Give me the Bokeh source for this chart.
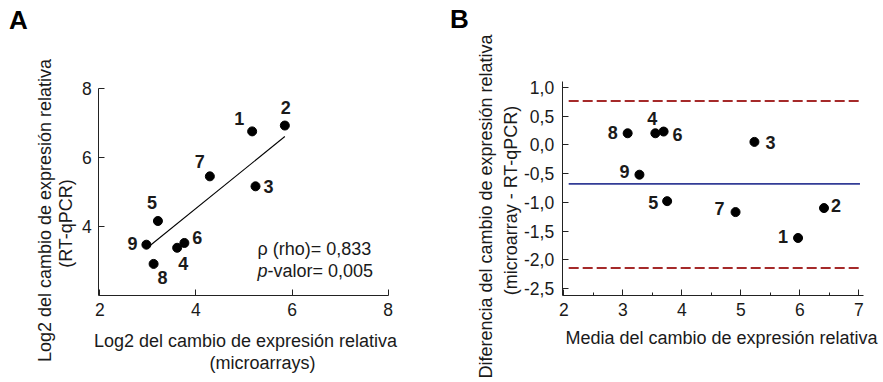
import math
from bokeh.plotting import figure
from bokeh.models import Range1d, FixedTicker, Label, ColumnDataSource, LinearAxis
from bokeh.embed import file_html
from bokeh.resources import INLINE
from bokeh.core.properties import value

# ---------------- data ----------------
ids = ["1", "2", "3", "4", "5", "6", "7", "8", "9"]
# Panel A: log2 fold change, microarrays vs RT-qPCR
micro_a = [5.17, 5.85, 5.24, 3.61, 3.21, 3.76, 4.29, 3.12, 2.97]
qpcr_a = [6.76, 6.93, 5.16, 3.37, 4.15, 3.51, 5.45, 2.90, 3.46]
fit_x = [2.97, 5.85]
fit_y = [3.35, 6.61]
rho_text = "ρ (rho)= 0,833"
pval_text = "-valor= 0,005"
x_ticks_a = [2, 4, 6, 8]
y_ticks_a = [4, 6, 8]
x_bounds_a = (1.98, 8.0)
y_bounds_a = (1.98, 8.0)

# Panel B: Bland-Altman
mean_b = [5.97, 6.41, 5.23, 3.55, 3.75, 3.69, 4.91, 3.08, 3.28]
diff_b = [-1.62, -1.10, 0.05, 0.20, -0.98, 0.23, -1.17, 0.20, -0.52]
bias = -0.68
loa_upper = 0.76
loa_lower = -2.14
limit_x = [2.08, 7.02]
x_ticks_b = [2, 3, 4, 5, 6, 7]
x_minor_b = [2.5, 3.5, 4.5, 5.5, 6.5]
y_ticks_b = [-2.5, -2.0, -1.5, -1.0, -0.5, 0.0, 0.5, 1.0]
y_tick_labels_b = ["-2,5", "-2,0", "-1,5", "-1,0", "-0,5", "0,0", "0,5", "1,0"]
x_bounds_b = (1.97, 7.085)
y_bounds_b = (-2.62, 1.10)

# label offsets (screen px, styling only)
off_a_x = [-13, 1, 13, 6, -6, 13, -10, 9, -14]
off_a_y = [-13, -18, 0, 16, -18, -5, -15, 14, -1]
off_b_x = [-15, 12, 16, -3, -14, 14, -16, -15, -15]
off_b_y = [-1, -3, 1, -15, 1, 3, -4, -1, -3]

FONT = "Liberation Sans"
TXT = "#1a1a1a"
AX = "#222222"

# ---------------- layout geometry (picture pixels) ----------------
PAGE = 0
W, H = 883, 382
LEFT, TOP, RIGHT, BOTTOM = PAGE, PAGE, PAGE + W, PAGE + H


def rng(v0, p0, v1, p1, pstart, pend):
    k = (v1 - v0) / (p1 - p0)
    return Range1d(v0 + (pstart - p0) * k, v0 + (pend - p0) * k)


p = figure(width=W, height=H, x_range=Range1d(0, W), y_range=Range1d(0, H),
           min_border=0, x_axis_location=None, y_axis_location=None,
           output_backend="svg", toolbar_location=None)
p.outline_line_color = None
p.xgrid.visible = False
p.ygrid.visible = False

p.extra_x_ranges = {
    "ax": rng(x_bounds_a[0], 98.3, x_bounds_a[1], 387.7, LEFT, RIGHT),
    "bx": rng(x_bounds_b[0], 561.7, x_bounds_b[1], 863.3, LEFT, RIGHT),
}
p.extra_y_ranges = {
    "ay": rng(y_bounds_a[0], 295, y_bounds_a[1], 88.3, BOTTOM, TOP),
    "by": rng(y_bounds_b[0], 295, y_bounds_b[1], 81, BOTTOM, TOP),
}


def style_axis(ax):
    ax.major_tick_in = 6
    ax.major_tick_out = 0
    ax.minor_tick_in = 0
    ax.minor_tick_out = 0
    ax.major_label_text_font = FONT
    ax.major_label_text_font_size = "17.5px"
    ax.major_label_text_color = TXT
    ax.axis_line_color = AX
    ax.major_tick_line_color = AX
    ax.minor_tick_line_color = AX
    ax.major_label_standoff = 7
    return ax


# axes panel A
xa = style_axis(LinearAxis(x_range_name="ax", y_range_name="ay", fixed_location=y_bounds_a[0],
                           bounds=x_bounds_a, ticker=FixedTicker(ticks=x_ticks_a)))
ya = style_axis(LinearAxis(x_range_name="ax", y_range_name="ay", fixed_location=x_bounds_a[0],
                           bounds=y_bounds_a, ticker=FixedTicker(ticks=y_ticks_a)))
p.add_layout(xa, "below")
p.add_layout(ya, "left")

# axes panel B
xb = style_axis(LinearAxis(x_range_name="bx", y_range_name="by", fixed_location=y_bounds_b[0],
                           bounds=x_bounds_b,
                           ticker=FixedTicker(ticks=x_ticks_b, minor_ticks=x_minor_b)))
xb.minor_tick_in = 3
yb = style_axis(LinearAxis(x_range_name="bx", y_range_name="by", fixed_location=x_bounds_b[0],
                           bounds=y_bounds_b, ticker=FixedTicker(ticks=y_ticks_b)))
yb.major_label_overrides = dict(zip(y_ticks_b, y_tick_labels_b))
yb.major_label_standoff = 8
p.add_layout(xb, "below")
p.add_layout(yb, "left")

# ---------------- panel A marks ----------------
p.line(fit_x, fit_y, line_color="black", line_width=1.1, x_range_name="ax", y_range_name="ay")
src_a = ColumnDataSource(dict(x=micro_a, y=qpcr_a, t=ids, xo=off_a_x, yo=off_a_y))
p.scatter("x", "y", source=src_a, size=9, color="black", x_range_name="ax", y_range_name="ay")
p.text("x", "y", text="t", source=src_a, x_offset="xo", y_offset="yo",
       text_font=value(FONT), text_font_style="bold", text_font_size=value("18px"),
       text_color=TXT, text_align="center", text_baseline="middle",
       x_range_name="ax", y_range_name="ay")

# ---------------- panel B marks ----------------
p.line(limit_x, [loa_upper, loa_upper], line_color="#a52a2a", line_width=2, line_dash="10 4",
       x_range_name="bx", y_range_name="by")
p.line(limit_x, [loa_lower, loa_lower], line_color="#a52a2a", line_width=2, line_dash="10 4",
       x_range_name="bx", y_range_name="by")
p.line(limit_x, [bias, bias], line_color="#323c96", line_width=1.8,
       x_range_name="bx", y_range_name="by")
src_b = ColumnDataSource(dict(x=mean_b, y=diff_b, t=ids, xo=off_b_x, yo=off_b_y))
p.scatter("x", "y", source=src_b, size=9, color="black", x_range_name="bx", y_range_name="by")
p.text("x", "y", text="t", source=src_b, x_offset="xo", y_offset="yo",
       text_font=value(FONT), text_font_style="bold", text_font_size=value("18px"),
       text_color=TXT, text_align="center", text_baseline="middle",
       x_range_name="bx", y_range_name="by")


# ---------------- texts (placed in picture-pixel coordinates) ----------------
def page_label(px, py, text, **kw):
    opts = dict(text_font=FONT, text_font_size="18px", text_color=TXT,
                text_align="center", text_baseline="middle")
    opts.update(kw)
    p.add_layout(Label(x=px - LEFT, y=BOTTOM - py, text=text, **opts))


page_label(18, 19, "A", text_font_style="bold", text_font_size="26px", text_color="black")
page_label(257, 248, rho_text, text_align="left")
page_label(257, 270, "p", text_align="left", text_font_style="italic")
page_label(267, 270, pval_text, text_align="left")
page_label(245, 340, "Log2 del cambio de expresión relativa")
page_label(262, 362, "(microarrays)")
page_label(44, 210, "Log2 del cambio de expresión relativa", angle=math.pi / 2)
page_label(65.5, 223, "(RT-qPCR)", angle=math.pi / 2)

page_label(459, 18.5, "B", text_font_style="bold", text_font_size="26px", text_color="black")
page_label(721, 337.5, "Media del cambio de expresión relativa")
page_label(485, 206, "Diferencia del cambio de expresión relativa", angle=math.pi / 2)
page_label(510, 200, "(microarray - RT-qPCR)", angle=math.pi / 2)

open("out.html", "w").write(file_html(p, INLINE))
